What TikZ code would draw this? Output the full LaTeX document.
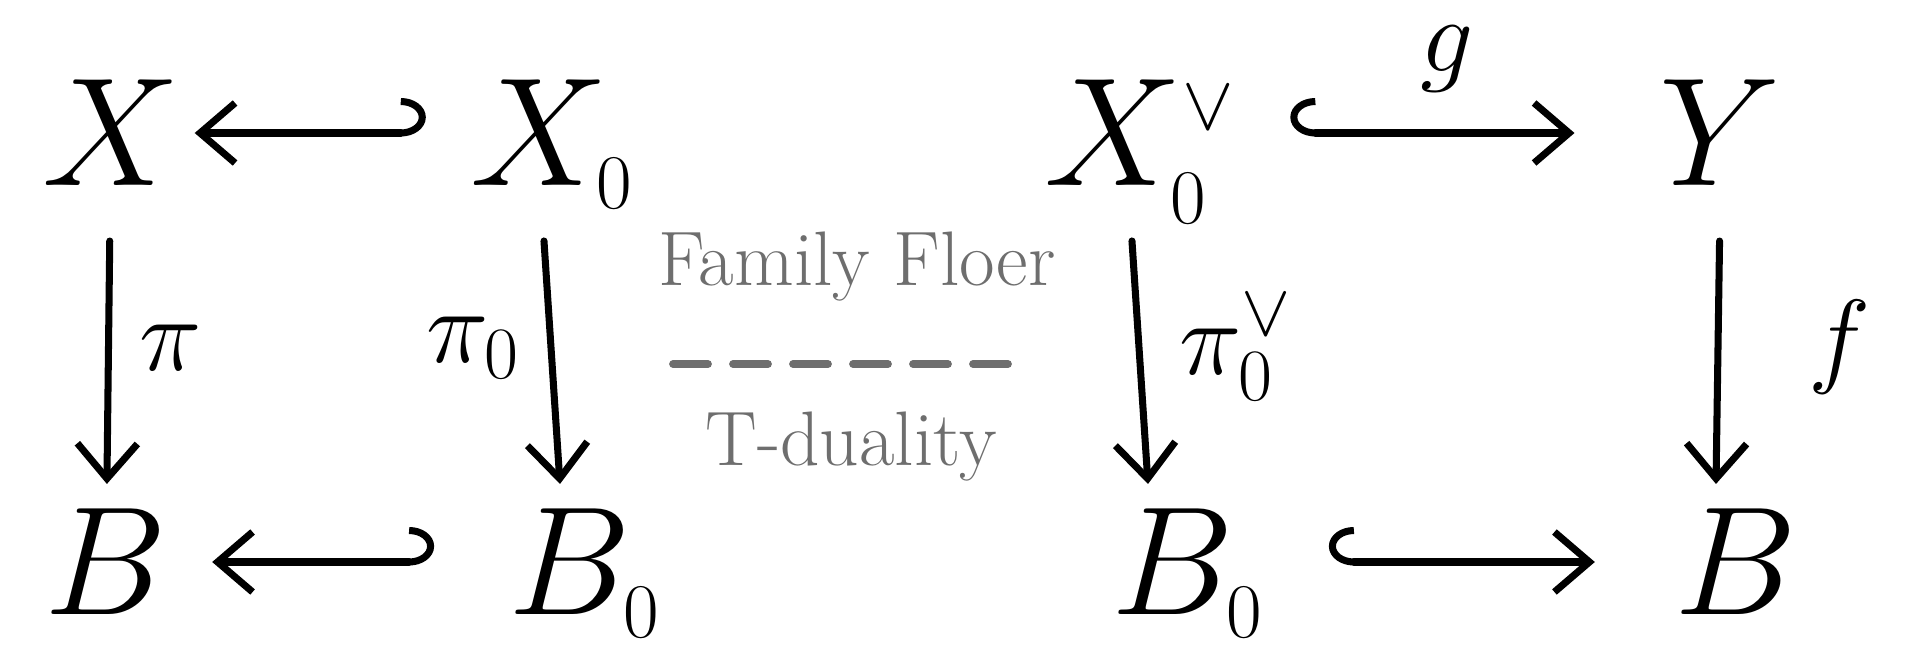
\RequirePackage{fix-cm}
\documentclass[tikz,border=0pt]{standalone}
\usetikzlibrary{positioning,arrows.meta}
\definecolor{notegrey}{HTML}{6E6E6E}

\begin{document}
\begin{tikzpicture}[
  x=0.1mm, y=-0.1mm,
  obj/.style={font=\fontsize{44}{48}\selectfont, inner sep=4pt, text height=33pt, text depth=3pt},
  lab/.style={font=\fontsize{30}{34}\selectfont, inner sep=2pt},
  note/.style={text=notegrey, font=\fontsize{22}{26}\selectfont, inner sep=2pt},
  arr/.style={-{Straight Barb[length=3.5mm, width=6mm]}, line width=2pt, line cap=round, line join=round},
  hookr/.style={arr, {Hooks[right, length=2.5mm, width=7mm]}-{Straight Barb[length=3.5mm, width=6mm]}},
  hookl/.style={arr, {Hooks[left, length=2.5mm, width=7mm]}-{Straight Barb[length=3.5mm, width=6mm]}},
  sepline/.style={notegrey, line width=2.2pt, line cap=round, dash pattern=on 3.5mm off 2.5mm}
]
\useasboundingbox (0,0) rectangle (1920,649);
% ----- left square -----
\node[obj] (X)   at (111,133) {$X$};
\node[obj] (X0)  at (552,133) {$X_{\scriptscriptstyle 0}$};
\node[obj] (B)   at (106,562) {$B$};
\node[obj] (B0)  at (585,562) {$B_{\scriptscriptstyle 0}$};
\draw[hookl, shorten <=3mm] (X0) -- (X);
\draw[hookl, shorten <=6mm, shorten >=3mm] (B0) -- (B);
\draw[arr, shorten <=3mm] (X) -- node[lab, right=2mm]{$\pi$} (B);
\draw[arr, shorten <=3mm] ([xshift=-1mm]X0.south) -- node[lab, left=2mm]{$\pi_0$} ([xshift=-2.5mm]B0.north);
% ----- right square -----
\node[obj] (X0v) at (1140,133) {$X_{\scriptscriptstyle 0}^{\scriptscriptstyle\vee}$};
\node[obj] (Y)   at (1720,133) {$Y$};
\node[obj] (B0r) at (1188,562) {$B_{\scriptscriptstyle 0}$};
\node[obj] (Br)  at (1736,562) {$B$};
\draw[hookr, shorten <=4mm, shorten >=7mm] (X0v) -- node[lab, above=3mm]{$g$} (Y);
\draw[hookr, shorten <=5mm, shorten >=6.5mm] (B0r) -- (Br);
\draw[arr, shorten <=3mm] ([xshift=-1mm]X0v.south) -- node[lab, right=3mm]{$\pi_0^\vee$} ([xshift=-4mm]B0r.north);
\draw[arr, shorten <=3mm] (Y.south) -- node[lab, right=8mm]{$f$} ([xshift=-2mm]Br.north);
% ----- middle note -----
\node[note] (famfloer) at (857,267) {Family Floer};
\node[note] (tdual)    at (851,447) {T-duality};
\coordinate (sepL) at (673,364);
\coordinate (sepR) at (1022,364);
\draw[sepline] (sepL) -- (sepR);
\end{tikzpicture}
\end{document}
